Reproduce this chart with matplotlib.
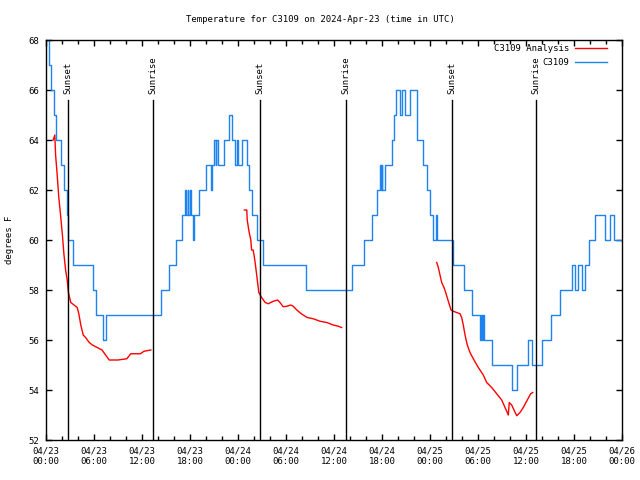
import numpy as np
import pandas as pd
import matplotlib
matplotlib.use('Agg')
from matplotlib import pyplot as plt
import matplotlib.dates as mdates

# hours after 2024-04-23 00:00 UTC
start = pd.Timestamp('2024-04-23 00:00')

# C3109 observations (step data, deg F)
blue_h = [0.2, 0.4, 0.6, 0.95, 1.3, 1.9, 2.3, 2.6, 2.75, 3.4, 5.9, 6.2, 7.15, 7.45,
          14.4, 15.4, 16.3, 17.0, 17.4, 17.55, 17.7, 17.8, 17.95, 18.1, 18.4, 18.55,
          19.15, 20.0, 20.6, 20.8, 21.0, 21.2, 21.3, 21.45, 22.3, 22.9, 23.3, 23.65,
          23.85, 24.0, 24.55, 25.1, 25.35, 25.7, 26.4, 27.1, 32.55, 38.2, 39.75, 40.8,
          41.4, 41.75, 41.85, 41.95, 42.05, 42.35, 43.3, 43.5, 43.75, 44.3, 44.5, 44.9,
          45.45, 46.4, 47.15, 47.6, 48.05, 48.4, 48.7, 48.85, 50.9, 52.2, 53.25, 54.2,
          54.35, 54.5, 54.6, 54.75, 55.8, 58.2, 58.85, 60.3, 60.8, 62.0, 63.15, 64.25,
          65.8, 66.15, 66.5, 67.0, 67.35, 67.85, 68.6, 69.9, 70.5, 71.05, 72.0]
blue_v = [68, 67, 66, 65, 64, 63, 62, 61, 60, 59, 58, 57, 56, 57,
          58, 59, 60, 61, 62, 61, 62, 61, 62, 61, 60, 61,
          62, 63, 62, 63, 64, 63, 64, 63, 64, 65, 64, 63,
          64, 63, 64, 63, 62, 61, 60, 59, 58, 59, 60, 61,
          62, 63, 62, 63, 62, 63, 64, 65, 66, 65, 66, 65,
          66, 64, 63, 62, 61, 60, 61, 60, 59, 58, 57, 56,
          57, 56, 57, 56, 55, 54, 55, 56, 55, 56, 57, 58,
          59, 58, 59, 58, 59, 60, 61, 60, 61, 60, 60]

# C3109 Analysis (three pieces)
r1_h = [0.9, 1.1, 1.2, 1.4, 1.6, 1.85, 2.05, 2.25, 2.45, 2.65, 2.8, 3.1, 3.5, 3.9, 4.1,
        4.35, 4.65, 4.95, 5.4, 5.8, 7.0, 7.45, 7.9, 9.0, 10.1, 10.6, 11.8, 12.25, 13.1]
r1_v = [64.0, 64.2, 63.4, 62.6, 61.7, 60.9, 60.2, 59.4, 58.8, 58.4, 57.9, 57.5, 57.4, 57.3, 57.05,
        56.6, 56.2, 56.1, 55.9, 55.8, 55.6, 55.4, 55.2, 55.2, 55.25, 55.45, 55.45, 55.55, 55.6]
r2_h = [24.8, 25.1, 25.15, 25.4, 25.6, 25.7, 25.9, 26.1, 26.3, 26.45, 26.6, 26.95, 27.4, 27.8, 28.4,
        28.95, 29.25, 29.65, 30.1, 30.6, 30.9, 31.35, 31.95, 32.65, 33.4, 34.25, 35.1, 35.9, 36.55, 36.95]
r2_v = [61.2, 61.2, 60.8, 60.3, 60.0, 59.6, 59.6, 59.2, 58.7, 58.3, 57.9, 57.7, 57.5, 57.45, 57.55,
        57.6, 57.5, 57.33, 57.35, 57.4, 57.35, 57.2, 57.04, 56.9, 56.85, 56.75, 56.7, 56.6, 56.55, 56.5]
r3_h = [48.84, 49.04, 49.25, 49.46, 49.75, 49.96, 50.29, 50.63, 50.91, 51.75, 51.96, 52.16, 52.38,
        52.66, 53.0, 53.41, 54.04, 54.66, 55.09, 55.71, 56.34, 56.96, 57.38, 57.79, 57.91, 58.21,
        58.5, 58.84, 59.25, 59.66, 60.16, 60.59, 60.84]
r3_v = [59.1, 58.9, 58.6, 58.3, 58.1, 57.9, 57.55, 57.2, 57.15, 57.05, 56.9, 56.6, 56.2,
        55.8, 55.5, 55.25, 54.9, 54.6, 54.3, 54.1, 53.85, 53.6, 53.3, 53.0, 53.5, 53.4,
        53.2, 52.97, 53.1, 53.3, 53.6, 53.85, 53.9]

# sun events
sun_h = [2.75, 13.375, 26.75, 37.5, 50.75, 61.25]
sun_lab = ['Sunset', 'Sunrise', 'Sunset', 'Sunrise', 'Sunset', 'Sunrise']

def to_time(h):
    return start + pd.to_timedelta(np.array(h), unit='h')

plt.rcParams['font.family'] = ['DejaVu Sans Mono']
plt.rcParams['font.size'] = 6.5

fig = plt.figure(figsize=(6.4, 4.8), dpi=100)
ax = fig.add_axes([46/640, 40/480, 576/640, 400/480])

blue = '#1e82f0'
ax.plot(to_time(r1_h), r1_v, color='red', lw=1.0, label='C3109 Analysis')
ax.plot(to_time(r2_h), r2_v, color='red', lw=1.0)
ax.plot(to_time(r3_h), r3_v, color='red', lw=1.0)
ax.step(to_time(blue_h), blue_v, where='post', color=blue, lw=1.0, label='C3109')

for h, lab in zip(sun_h, sun_lab):
    t = to_time([h])[0]
    ax.axvline(t, ymin=0, ymax=0.85, color='black', lw=1.0)
    ax.text(t, 65.85, lab, rotation=90, ha='center', va='bottom')

ax.set_xlim(start, start + pd.Timedelta(hours=72))
ax.set_ylim(52, 68)
ax.set_yticks(np.arange(52, 69, 2))
ax.xaxis.set_major_locator(mdates.HourLocator(byhour=[0, 6, 12, 18]))
ax.xaxis.set_minor_locator(mdates.HourLocator(byhour=range(0, 24, 2)))
ax.xaxis.set_major_formatter(mdates.DateFormatter('%m/%d\n%H:%M'))
ax.tick_params(which='both', direction='in', top=True, right=True, width=1.0)
ax.tick_params(which='major', length=4, pad=5)
ax.tick_params(which='minor', length=3)
for s in ax.spines.values():
    s.set_linewidth(1.0)

ax.set_ylabel('degrees F', labelpad=10)
fig.text(0.5, 1 - 20/480, 'Temperature for C3109 on 2024-Apr-23 (time in UTC)',
         ha='center', va='center')
ax.legend(loc='upper right', bbox_to_anchor=(1 - 10/576, 1 + 1/400), frameon=False,
          markerfirst=False, handlelength=3.5, borderaxespad=0.2, labelspacing=0.55,
          handletextpad=0.6)

plt.savefig('out.png', dpi=100)
